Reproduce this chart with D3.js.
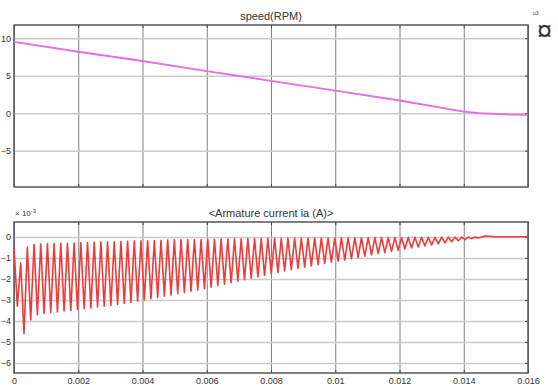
<!DOCTYPE html>
<html>
<head>
<meta charset="utf-8">
<script src="https://cdn.jsdelivr.net/npm/d3@7"></script>
<style>
  body { margin: 0; background: #fff; }
  svg text { font-family: "Liberation Sans", Arial, sans-serif; fill: #333; }
</style>
</head>
<body>
<svg id="chart" width="558" height="385"></svg>
<script>
// time axis
const xTicks = [0, 0.002, 0.004, 0.006, 0.008, 0.01, 0.012, 0.014, 0.016];

// speed (RPM) samples
const speedT = [0, 0.002, 0.004, 0.006, 0.008, 0.010, 0.012, 0.014, 0.0145, 0.015, 0.0155, 0.016];
const speedV = [9.5, 8.17, 6.94, 5.6, 4.3, 3.0, 1.67, 0.2, 0.0, -0.13, -0.2, -0.22];
const speedTicks = [10, 5, 0, -5];

// armature current (x10^-3 A): extrema of the ripple, one pair per chopper cycle
const halfPeriod = 0.000104;
const currentPeaks = [
  -0.5, -1.25, -0.5, -0.36, -0.34, -0.33, -0.32, -0.31, -0.3, -0.29,
  -0.28, -0.27, -0.26, -0.25, -0.24, -0.23, -0.22, -0.21, -0.2, -0.19,
  -0.18, -0.17, -0.16, -0.15, -0.14, -0.13, -0.13, -0.12, -0.12, -0.11,
  -0.11, -0.1, -0.1, -0.09, -0.09, -0.08, -0.08, -0.08, -0.07, -0.07,
  -0.07, -0.06, -0.06, -0.06, -0.06, -0.05, -0.05, -0.05, -0.05, -0.04,
  -0.04, -0.04, -0.04, -0.04, -0.03, -0.03, -0.03, -0.03, -0.03, -0.02,
  -0.02, -0.02, -0.02, -0.02, -0.01, -0.01, -0.01, -0.01, -0.01, -0.01,
  0.0
];
const currentTroughs = [
  -3.3, -4.6, -3.95, -3.7, -3.65, -3.6, -3.57, -3.53, -3.5, -3.45,
  -3.42, -3.38, -3.34, -3.3, -3.26, -3.22, -3.17, -3.12, -3.06, -3.0,
  -2.94, -2.88, -2.82, -2.76, -2.7, -2.64, -2.58, -2.52, -2.46, -2.39,
  -2.32, -2.25, -2.18, -2.11, -2.04, -1.97, -1.9, -1.83, -1.76, -1.69,
  -1.62, -1.56, -1.5, -1.44, -1.38, -1.32, -1.26, -1.2, -1.15, -1.1,
  -1.04, -0.98, -0.92, -0.86, -0.8, -0.75, -0.69, -0.64, -0.58, -0.53,
  -0.48, -0.43, -0.38, -0.33, -0.28, -0.23, -0.18, -0.13, -0.09, -0.05
];
const currentTailT = [0.01466, 0.015, 0.016];
const currentTailV = [0.04, 0.01, 0.01];
const currentTicks = [0, -1, -2, -3, -4, -5, -6];

const svg = d3.select('#chart');

const left = 14, right = 528;
const top1 = 25, bottom1 = 187;
const top2 = 222, bottom2 = 373;

const x = d3.scaleLinear().domain([0, 0.016]).range([left, right]);
const y1 = d3.scaleLinear().domain([-9.85, 11.75]).range([bottom1, top1]);
const y2 = d3.scaleLinear().domain([-6.48, 0.71]).range([bottom2, top2]);

function panel(y, yTicks, yTop, yBottom, title) {
    const g = svg.append('g');

    // grid
    g.append('g')
        .attr('transform', `translate(0, ${yBottom})`)
        .call(d3.axisBottom(x).tickValues(xTicks).tickSize(-(yBottom - yTop)).tickFormat(''))
        .call(s => s.select('.domain').remove())
        .call(s => s.selectAll('line').attr('stroke', '#808080').attr('stroke-width', 1));
    g.append('g')
        .attr('transform', `translate(${left}, 0)`)
        .call(d3.axisLeft(y).tickValues(yTicks).tickSize(-(right - left)).tickFormat(''))
        .call(s => s.select('.domain').remove())
        .call(s => s.selectAll('line').attr('stroke', '#cacaca').attr('stroke-width', 1.5));

    // inner ticks on all four sides
    g.append('g')
        .attr('transform', `translate(0, ${yBottom})`)
        .call(d3.axisTop(x).tickValues(xTicks).tickSize(3).tickFormat(''))
        .call(s => s.select('.domain').remove())
        .call(s => s.selectAll('line').attr('stroke', '#444'));
    g.append('g')
        .attr('transform', `translate(0, ${yTop})`)
        .call(d3.axisBottom(x).tickValues(xTicks).tickSize(3).tickFormat(''))
        .call(s => s.select('.domain').remove())
        .call(s => s.selectAll('line').attr('stroke', '#444'));
    g.append('g')
        .attr('transform', `translate(${right}, 0)`)
        .call(d3.axisLeft(y).tickValues(yTicks).tickSize(3).tickFormat(''))
        .call(s => s.select('.domain').remove())
        .call(s => s.selectAll('line').attr('stroke', '#444'));

    // y labels
    g.append('g')
        .attr('transform', `translate(${left}, 0)`)
        .call(d3.axisLeft(y).tickValues(yTicks).tickSize(0).tickPadding(3))
        .call(s => s.select('.domain').remove())
        .call(s => s.selectAll('text')
            .attr('font-size', 9)
            .attr('font-family', '"Liberation Sans", Arial, sans-serif')
            .attr('fill', '#333'));

    g.append('rect')
        .attr('x', left).attr('y', yTop)
        .attr('width', right - left).attr('height', yBottom - yTop)
        .attr('fill', 'none').attr('stroke', '#555').attr('stroke-width', 1.5);

    svg.append('text')
        .attr('x', (left + right) / 2).attr('y', yTop - 5)
        .attr('text-anchor', 'middle').attr('font-size', 11)
        .text(title);
    return g;
}

panel(y1, speedTicks, top1, bottom1, 'speed(RPM)');
panel(y2, currentTicks, top2, bottom2, '<Armature current ia (A)>');

// x labels (bottom panel only), sitting right on the bottom edge
svg.append('g')
    .attr('transform', `translate(0, ${bottom2})`)
    .call(d3.axisBottom(x).tickValues(xTicks).tickSize(0).tickPadding(4.5).tickFormat(d3.format('~g')))
    .call(s => s.select('.domain').remove())
    .call(s => s.selectAll('text')
        .attr('font-size', 9)
        .attr('font-family', '"Liberation Sans", Arial, sans-serif')
        .attr('fill', '#333'));

// exponent label
const expo = svg.append('text').attr('x', 15).attr('y', 216).attr('font-size', 8);
expo.append('tspan').text('\u00d7 10');
expo.append('tspan').attr('dy', -3).attr('font-size', 6).text('-3');

// speed trace
const speed = speedT.map((t, i) => ({ t: t, v: speedV[i] }));
svg.append('path').datum(speed)
    .attr('fill', 'none').attr('stroke', '#e56de5').attr('stroke-width', 2)
    .attr('d', d3.line().x(d => x(d.t)).y(d => y1(d.v)));

// current trace: alternate peak / trough samples on the ripple clock
const current = [];
currentPeaks.forEach((p, k) => {
    current.push({ t: 2 * k * halfPeriod, v: p });
    if (k < currentTroughs.length) current.push({ t: (2 * k + 1) * halfPeriod, v: currentTroughs[k] });
});
currentTailT.forEach((t, i) => current.push({ t: t, v: currentTailV[i] }));

svg.append('path').datum(current)
    .attr('fill', 'none').attr('stroke', '#f03a3a').attr('stroke-width', 1.6)
    .attr('stroke-linejoin', 'round')
    .attr('d', d3.line().x(d => x(d.t)).y(d => y2(d.v)));

// scope corner marks
svg.append('text').attr('x', 533).attr('y', 15).attr('font-size', 5).attr('fill', '#666').text('u3');
svg.append('text').attr('x', 537).attr('y', 40).attr('font-size', 27).attr('fill', '#444').text('\u00a4');
</script>
</body>
</html>
